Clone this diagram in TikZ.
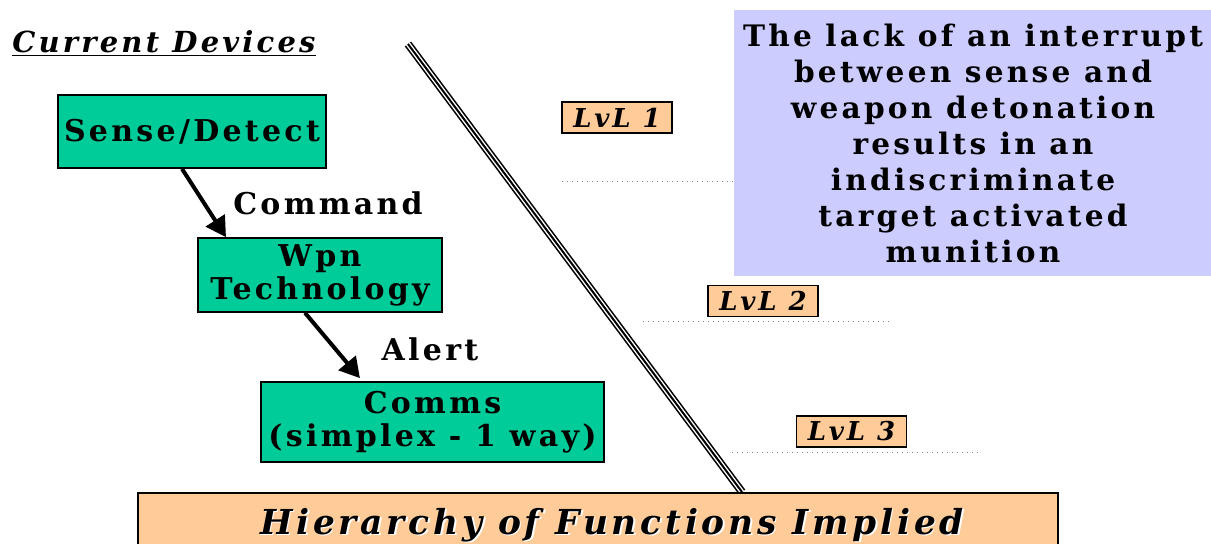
\documentclass[tikz,border=0pt]{standalone}
\usepackage{fontspec}
\usepackage{xcolor}
\usetikzlibrary{arrows.meta, positioning, calc}
\setmainfont{DejaVu Serif}
\newfontfamily\bkfont{DejaVu Serif}[LetterSpace=11]
\definecolor{boxgreen}{RGB}{0, 204, 153}
\definecolor{peach}{RGB}{255, 204, 153}
\definecolor{lavender}{RGB}{204, 204, 255}

\begin{document}
\begin{tikzpicture}[
    x=0.5pt, y=-0.5pt,
    device/.style={draw, thick, fill=boxgreen, align=center, inner sep=0pt, font=\bkfont\bfseries\fontsize{15}{16.5}\selectfont},
    level/.style={draw, thick, fill=peach, minimum width=55pt, minimum height=15.5pt, inner sep=0pt, font=\bkfont\bfseries\itshape\fontsize{13}{15}\selectfont},
    tag/.style={font=\bkfont\bfseries\fontsize{15}{17}\selectfont},
    arrow/.style={-{Triangle[length=10pt, width=11pt]}, line width=2pt},
    divider/.style={dotted, gray, line width=0.5pt},
    tripleline/.style={line width=4pt, postaction={draw, white, line width=2.4pt}, postaction={draw, black, line width=1pt}}
]
    \useasboundingbox (0,0) rectangle (1211,543);

    % Title
    \node[anchor=base west, inner sep=0pt, font=\bkfont\bfseries\itshape\fontsize{14.5}{17}\selectfont] (title) at (12,52) {\underline{Current Devices}};

    % Device chain
    \node[device, minimum width=134pt, minimum height=36.5pt] (sense) at (192,131.5) {Sense/Detect};
    \node[device, minimum width=122pt, minimum height=37pt] (wpn) at (320,275) {Wpn\\Technology};
    \node[device, minimum width=171.5pt, minimum height=40pt] (comms) at (432.5,422) {Comms\\(simplex - 1 way)};

    \draw[arrow] ([xshift=-5pt]sense.south) -- ([xshift=-47pt]wpn.north);
    \draw[arrow, shorten >=2pt] ([xshift=-7.5pt]wpn.south) -- ([xshift=-35pt]comms.north);
    \node[tag] (command) at (328,203) {Command};
    \node[tag] (alert) at (430,349) {Alert};

    % Diagonal divider
    \coordinate (diagtop) at (408,44);
    \coordinate (diagbot) at (742,492);
    \draw[tripleline] (diagtop) -- (diagbot);

    % Levels
    \node[level] (lvl1) at (617,117.5) {LvL 1};
    \node[level] (lvl2) at (763,301) {LvL 2};
    \node[level] (lvl3) at (851.5,431.5) {LvL 3};
    \coordinate (d1a) at (562,181); \coordinate (d1b) at (733,181);
    \coordinate (d2a) at (643,321); \coordinate (d2b) at (890,321);
    \coordinate (d3a) at (732,452); \coordinate (d3b) at (980,452);
    \draw[divider] (d1a) -- (d1b);
    \draw[divider] (d2a) -- (d2b);
    \draw[divider] (d3a) -- (d3b);

    % Note
    \node[fill=lavender, minimum width=239pt, minimum height=133pt, inner sep=0pt, align=center, font=\bkfont\bfseries\fontsize{14.8}{18}\selectfont] (note) at (973,143)
        {The lack of an interrupt\\between sense and\\weapon detonation\\results in an\\indiscriminate\\target activated\\munition};

    % Bottom banner
    \node[draw, thick, fill=peach, minimum width=460pt, minimum height=34pt, inner sep=0pt] (banner) at (598,527) {};
    \node[white, font=\bkfont\bfseries\itshape\fontsize{17.2}{22}\selectfont] (bannershadow) at (613.6,526.6) {Hierarchy of Functions Implied};
    \node[font=\bkfont\bfseries\itshape\fontsize{17.2}{22}\selectfont] (bannertext) at (612,525) {Hierarchy of Functions Implied};
\end{tikzpicture}
\end{document}
